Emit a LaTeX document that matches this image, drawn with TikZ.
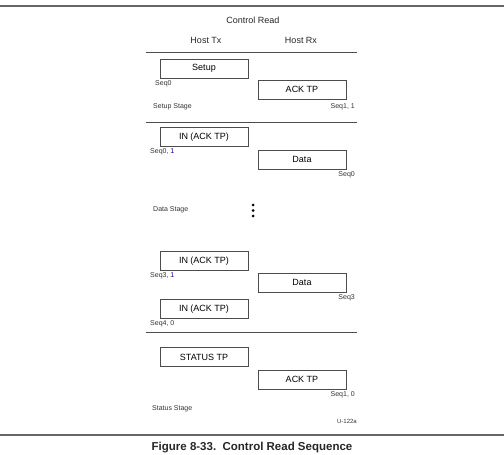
\documentclass[tikz,border=0pt]{standalone}
\usepackage{fontspec}
\setmainfont{Liberation Sans}
\usepackage{tikz}

\begin{document}
\begin{tikzpicture}[x=1pt,y=-1pt,
  pkt/.style={draw=black!70,line width=0.7pt,minimum width=88pt,minimum height=19pt,inner sep=0pt,font=\fontsize{9}{10}\selectfont},
  seq/.style={inner sep=0pt,font=\fontsize{7}{8}\selectfont,text=black!80},
  hdr/.style={inner sep=0pt,font=\fontsize{9}{10}\selectfont,text=black!85}]
\useasboundingbox (0,0) rectangle (504,455);
\draw[black!60,line width=1.2pt] (0,6) -- (504,6);
\draw[black!60,line width=1.2pt] (0,435) -- (504,435);
\draw[black!70,line width=0.6pt] (146,52) -- (357,52);
\draw[black!70,line width=0.6pt] (146,122) -- (357,122);
\draw[black!70,line width=0.6pt] (146,332) -- (357,332);
\node[hdr] (title) at (253,20) {Control Read};
\node[hdr] (tx) at (206,40) {Host Tx};
\node[hdr] (rx) at (301,40) {Host Rx};
% setup stage
\node[pkt] (setup) at (204,68.5) {Setup};
\node[seq,anchor=west] (seqa) at (155,84) {Seq0};
\node[pkt] (acka) at (302,89.5) {ACK TP};
\node[seq,anchor=east] (seqb) at (355,106.5) {Seq1, 1};
\node[seq,anchor=west] (setupst) at (153,107) {Setup Stage};
% data stage
\node[pkt] (ina) at (204,137) {IN (ACK TP)};
\node[seq,anchor=west] (seqc) at (150,152) {Seq0, \textcolor{blue!60!black}{1}};
\node[pkt] (dataa) at (302,159.5) {Data};
\node[seq,anchor=east] (seqd) at (355,174.5) {Seq0};
\node[seq,anchor=west] (datast) at (153,210) {Data Stage};
\fill (253,205) circle (1.5pt) (253,210.5) circle (1.5pt) (253,216) circle (1.5pt);
\node[pkt] (inb) at (204,261) {IN (ACK TP)};
\node[seq,anchor=west] (seqe) at (150,275.5) {Seq3, \textcolor{blue!60!black}{1}};
\node[pkt] (datab) at (302,282.5) {Data};
\node[seq,anchor=east] (seqf) at (355,297.5) {Seq3};
\node[pkt] (inc) at (204,309) {IN (ACK TP)};
\node[seq,anchor=west] (seqg) at (150,323.5) {Seq4, 0};
% status stage
\node[pkt] (status) at (204,357) {STATUS TP};
\node[pkt] (ackb) at (302,379.5) {ACK TP};
\node[seq,anchor=east] (seqh) at (355,394.5) {Seq1, 0};
\node[seq,anchor=west] (statusst) at (152,409) {Status Stage};
\node[seq,anchor=east,font=\fontsize{6}{7}\selectfont] (fig) at (357,421.5) {U-122a};
\node[inner sep=0pt,font=\fontsize{11.5}{13}\selectfont\bfseries,text=black!85] (cap) at (252,447.5) {Figure 8-33.\ \ Control Read Sequence};
\end{tikzpicture}
\end{document}
